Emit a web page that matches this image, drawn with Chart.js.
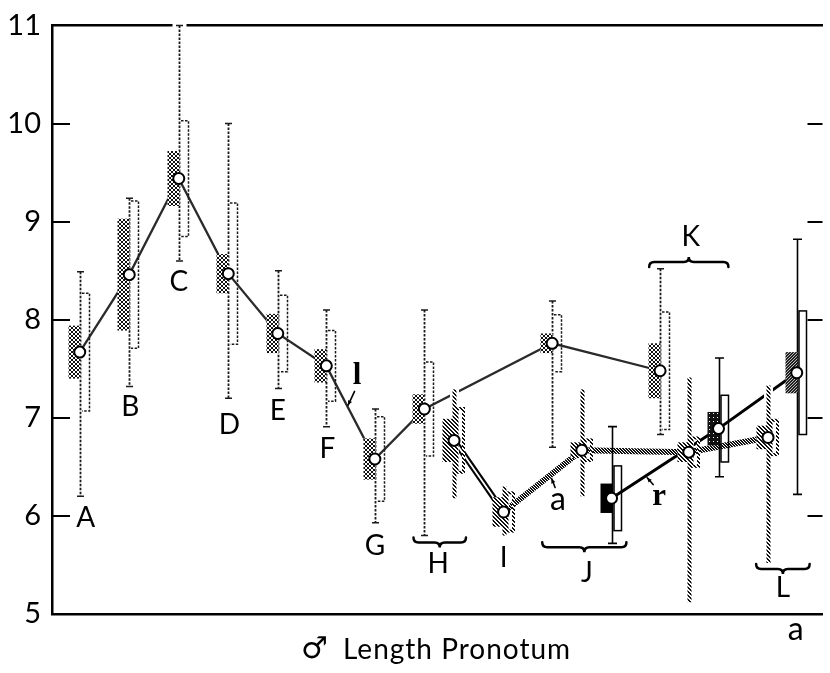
<!DOCTYPE html>
<html>
<head>
<meta charset="utf-8">
<script src="https://cdn.jsdelivr.net/npm/chart.js@4.4.1/dist/chart.umd.min.js"></script>
<style>
  html, body { margin: 0; padding: 0; background: #fff; overflow: hidden; }
  canvas { display: block; }
</style>
</head>
<body>
<canvas id="c" width="830" height="673"></canvas>
<script>
// Male pronotum length by population, in transect order.
// Each population: range (min-max), mean, ±1 SD (open box), ±2 SE (filled box).
const samples = ['A', 'B', 'C', 'D', 'E', 'F', 'G', 'H1', 'H2', 'I', 'J1', 'J2', 'J3', 'K1', 'M', 'K2', 'L', 'aR'];
const series  = ['l', 'l', 'l', 'l', 'l', 'l', 'l', 'l', 'a', 'a', 'l', 'a', 'r', 'l', 'a', 'r', 'a', 'r'];
const station = [1, 2, 3, 4, 5, 5.98, 6.96, 7.96, 8.56, 9.56, 10.54, 11.14, 11.74, 12.72, 13.3, 13.9, 14.9, 15.48];
const means   = [7.67, 8.46, 9.44, 8.47, 7.86, 7.53, 6.58, 7.09, 6.77, 6.04, 7.76, 6.67, 6.18, 7.48, 6.65, 6.89, 6.80, 7.46];
const mins    = [6.20, 7.32, 8.60, 7.20, 7.30, 6.91, 5.93, 5.80, 6.18, 5.80, 6.70, 6.20, 5.72, 6.83, 5.12, 6.40, 5.52, 6.22];
const maxs    = [8.49, 9.24, 11.0, 10.0, 8.50, 8.10, 7.09, 8.10, 7.29, 6.30, 8.19, 7.29, 6.91, 8.52, 7.41, 7.61, 7.33, 8.82];
const sd      = [0.60, 0.75, 0.59, 0.72, 0.39, 0.36, 0.43, 0.48, 0.34, 0.21, 0.29, 0.12, 0.33, 0.60, 0.16, 0.34, 0.19, 0.63];
const twoSE   = [0.27, 0.57, 0.28, 0.20, 0.20, 0.17, 0.21, 0.15, 0.22, 0.15, 0.10, 0.08, 0.15, 0.28, 0.10, 0.17, 0.12, 0.21];
const yTicks  = [5, 6, 7, 8, 9, 10, 11];
const xTitleSymbol = '\u2642';
const xTitleText = 'Length Pronotum';

// Population letters and series names, placed in data units
const groupLabels = [
  { text: 'A', x: 1.12, y: 5.98 }, { text: 'B', x: 2.02, y: 7.11 }, { text: 'C', x: 3.0, y: 8.39 },
  { text: 'D', x: 4.02, y: 6.93 }, { text: 'E', x: 5.0, y: 7.07 }, { text: 'F', x: 6.0, y: 6.68 },
  { text: 'G', x: 6.96, y: 5.69 }, { text: 'H', x: 8.24, y: 5.51 }, { text: 'I', x: 9.56, y: 5.57 },
  { text: 'J', x: 11.24, y: 5.42 }, { text: 'K', x: 13.34, y: 8.84 }, { text: 'L', x: 15.2, y: 5.27 }
];
const lowerLetters = [{ text: 'a', x: 15.46, y: 4.84 }];
const seriesLabels = [
  { text: 'l', x: 6.6, y: 7.43, serif: true, arrow: [6.55, 7.27, 6.42, 7.13] },
  { text: 'a', x: 10.66, y: 6.17, serif: false, arrow: [10.6, 6.29, 10.53, 6.38] },
  { text: 'r', x: 12.7, y: 6.19, serif: true, arrow: [12.58, 6.32, 12.46, 6.39] }
];
const braces = [
  { x0: 7.74, x1: 8.80, y: 5.73, dir: 1 },
  { x0: 10.34, x1: 12.04, y: 5.68, dir: 1 },
  { x0: 12.50, x1: 14.10, y: 8.59, dir: -1 },
  { x0: 14.66, x1: 15.74, y: 5.46, dir: 1 }
];

const SANS = 'Lato, "Open Sans", sans-serif';
const SERIF = '"Liberation Serif", "DejaVu Serif", serif';

const canvas = document.getElementById('c');
const ctx0 = canvas.getContext('2d');

function makePattern(size, bg, fg, cells) {
  const c = document.createElement('canvas');
  c.width = c.height = size;
  const g = c.getContext('2d');
  g.fillStyle = bg; g.fillRect(0, 0, size, size);
  g.fillStyle = fg;
  cells.forEach(([px, py]) => g.fillRect(px, py, 1, 1));
  return ctx0.createPattern(c, 'repeat');
}
const crossHatch = makePattern(4, '#fff', '#111', [[0,0],[1,1],[2,2],[3,3],[3,0],[2,1],[1,2],[0,3]]);
const diagHatch  = makePattern(4, '#fff', '#111', [[0,0],[1,1],[2,2],[3,3],[1,0],[2,1],[3,2],[0,3]]);
const bandHatch  = makePattern(3, '#fff', '#111', [[0,0],[1,1],[2,2],[1,0],[2,1],[0,2]]);
const stippleDark = makePattern(4, '#111', '#fff', [[1,1]]);
const stippleMid  = makePattern(3, '#222', '#bbb', [[0,0],[2,1],[1,2]]);
const solidFills = { J3: '#000', K2: stippleDark, aR: stippleMid };

const indicesOf = s => samples.map((_, i) => i).filter(i => series[i] === s);
const pointsOf = s => indicesOf(s).map(i => ({ x: station[i], y: means[i] }));

// Range bars and boxes, drawn between the connecting lines and the mean circles
const diceDiagrams = {
  id: 'diceDiagrams',
  beforeDatasetDraw(chart, args) {
    if (chart.data.datasets[args.index].label !== 'means') return;
    const { ctx, scales: { x, y } } = chart;
    ctx.save();
    samples.forEach((name, i) => {
      const s = series[i];
      const cx = Math.round(x.getPixelForValue(station[i])) + 0.5;
      const yMax = y.getPixelForValue(maxs[i]), yMin = y.getPixelForValue(mins[i]);
      const sdT = y.getPixelForValue(means[i] + sd[i]), sdB = y.getPixelForValue(means[i] - sd[i]);
      const seT = y.getPixelForValue(means[i] + twoSE[i]), seB = y.getPixelForValue(means[i] - twoSE[i]);

      // range line
      if (s === 'l') {
        ctx.fillStyle = '#fff';
        ctx.fillRect(cx - 7, yMax - 3, 14, 6);
        ctx.strokeStyle = '#1a1a1a'; ctx.lineWidth = 1.8;
        ctx.setLineDash([2.5, 1.5]);
        ctx.beginPath(); ctx.moveTo(cx, yMax); ctx.lineTo(cx, yMin); ctx.stroke();
        ctx.setLineDash([]);
        ctx.lineWidth = 1.5;
        ctx.beginPath();
        ctx.moveTo(cx - 3.5, yMax); ctx.lineTo(cx + 3.5, yMax);
        ctx.moveTo(cx - 3.5, yMin); ctx.lineTo(cx + 3.5, yMin);
        ctx.stroke();
      } else if (s === 'a') {
        ctx.strokeStyle = '#fff'; ctx.lineWidth = 9;
        ctx.beginPath(); ctx.moveTo(cx, yMax - 1); ctx.lineTo(cx, yMin + 1); ctx.stroke();
        ctx.strokeStyle = diagHatch; ctx.lineWidth = 4;
        ctx.beginPath(); ctx.moveTo(cx, yMax); ctx.lineTo(cx, yMin); ctx.stroke();
      } else {
        ctx.strokeStyle = '#000'; ctx.lineWidth = 1.6;
        ctx.beginPath();
        ctx.moveTo(cx, yMax); ctx.lineTo(cx, yMin);
        ctx.moveTo(cx - 4.5, yMax); ctx.lineTo(cx + 4.5, yMax);
        ctx.moveTo(cx - 4.5, yMin); ctx.lineTo(cx + 4.5, yMin);
        ctx.stroke();
      }

      // open box: ±1 SD
      const hx0 = cx + 1.5, hx1 = cx + 9;
      if (s === 'l') {
        ctx.strokeStyle = '#1a1a1a'; ctx.lineWidth = 1.5; ctx.setLineDash([2.5, 1.5]);
        ctx.beginPath(); ctx.moveTo(hx0, sdT); ctx.lineTo(hx1, sdT); ctx.lineTo(hx1, sdB); ctx.lineTo(hx0, sdB); ctx.stroke();
        ctx.setLineDash([]);
      } else if (s === 'a') {
        ctx.strokeStyle = diagHatch; ctx.lineWidth = 3;
        ctx.strokeRect(hx0 + 1, sdT + 1.5, hx1 - hx0 - 1, sdB - sdT - 3);
      } else {
        ctx.strokeStyle = '#000'; ctx.lineWidth = 1.5;
        ctx.strokeRect(hx0, sdT, hx1 - hx0, sdB - sdT);
      }

      // filled box: ±2 SE
      const fx0 = cx - 12;
      ctx.fillStyle = s === 'l' ? crossHatch : s === 'a' ? diagHatch : solidFills[name];
      ctx.fillRect(fx0, seT, cx - fx0, seB - seT);
    });
    ctx.restore();
  }
};

// Inward axis ticks on both sides of the plot frame
const frameTicks = {
  id: 'frameTicks',
  beforeDatasetsDraw(chart) {
    const { ctx, chartArea: a, scales: { y } } = chart;
    ctx.save();
    ctx.strokeStyle = '#000'; ctx.lineWidth = 2;
    ctx.beginPath();
    yTicks.forEach(v => {
      if (v === 5 || v === 11) return;
      const py = Math.round(y.getPixelForValue(v));
      ctx.moveTo(a.left, py); ctx.lineTo(a.left + 18, py);
      ctx.moveTo(a.right - 15, py); ctx.lineTo(a.right, py);
    });
    ctx.stroke();
    ctx.restore();
  }
};

function drawBrace(ctx, x0, x1, yy, dir) {
  const d = 5 * dir, xm = (x0 + x1) / 2;
  ctx.beginPath();
  ctx.moveTo(x0, yy - d);
  ctx.quadraticCurveTo(x0, yy, x0 + 5, yy);
  ctx.lineTo(xm - 5, yy);
  ctx.quadraticCurveTo(xm, yy, xm, yy + d);
  ctx.quadraticCurveTo(xm, yy, xm + 5, yy);
  ctx.lineTo(x1 - 5, yy);
  ctx.quadraticCurveTo(x1, yy, x1, yy - d);
  ctx.stroke();
}

// Letters, braces, labelled arrows and the axis caption
const annotations = {
  id: 'annotations',
  afterDatasetsDraw(chart) {
    const { ctx, chartArea: area, scales: { x, y } } = chart;
    ctx.save();
    ctx.fillStyle = '#000'; ctx.strokeStyle = '#000';
    ctx.textAlign = 'center'; ctx.textBaseline = 'middle';
    ctx.font = '28px ' + SANS;
    groupLabels.forEach(l => ctx.fillText(l.text, x.getPixelForValue(l.x), y.getPixelForValue(l.y)));
    ctx.font = '32px ' + SANS;
    lowerLetters.forEach(l => ctx.fillText(l.text, x.getPixelForValue(l.x), y.getPixelForValue(l.y)));

    ctx.lineWidth = 2.5; ctx.lineCap = 'round';
    braces.forEach(b => drawBrace(ctx, x.getPixelForValue(b.x0), x.getPixelForValue(b.x1), y.getPixelForValue(b.y), b.dir));

    seriesLabels.forEach(l => {
      ctx.font = (l.serif ? 'bold 31px ' + SERIF : '32px ' + SANS);
      ctx.fillText(l.text, x.getPixelForValue(l.x), y.getPixelForValue(l.y));
      const [ax0, ay0, ax1, ay1] = l.arrow;
      const p0 = [x.getPixelForValue(ax0), y.getPixelForValue(ay0)];
      const p1 = [x.getPixelForValue(ax1), y.getPixelForValue(ay1)];
      ctx.lineWidth = 1.6;
      ctx.beginPath(); ctx.moveTo(p0[0], p0[1]); ctx.lineTo(p1[0], p1[1]); ctx.stroke();
      const ang = Math.atan2(p1[1] - p0[1], p1[0] - p0[0]);
      ctx.beginPath();
      ctx.moveTo(p1[0], p1[1]);
      ctx.lineTo(p1[0] - 5 * Math.cos(ang - 0.45), p1[1] - 5 * Math.sin(ang - 0.45));
      ctx.lineTo(p1[0] - 5 * Math.cos(ang + 0.45), p1[1] - 5 * Math.sin(ang + 0.45));
      ctx.closePath(); ctx.fill();
    });

    // x-axis caption: male symbol followed by the measured trait
    const capY = area.bottom + 36;
    ctx.textAlign = 'left';
    ctx.font = 'bold 30px "DejaVu Sans", sans-serif';
    ctx.fillText(xTitleSymbol, 301, capY);
    ctx.font = '28px ' + SANS;
    if ('letterSpacing' in ctx) ctx.letterSpacing = '1px';
    ctx.fillText(xTitleText, 343, capY);
    ctx.restore();
  }
};

new Chart(canvas, {
  type: 'line',
  data: {
    datasets: [
      {
        label: 'l', data: pointsOf('l'), order: 3,
        borderColor: '#2b2b2b', borderWidth: 2.3, pointRadius: 0, tension: 0
      },
      {
        label: 'a', data: pointsOf('a'), order: 3,
        borderColor: bandHatch, borderWidth: 6, pointRadius: 0, tension: 0,
        segment: { borderColor: c => (c.p0DataIndex === 0 ? '#000' : undefined) }
      },
      {
        label: 'a-core', data: pointsOf('a').slice(0, 2), order: 2,
        borderColor: '#fff', borderWidth: 1.8, pointRadius: 0, tension: 0
      },
      {
        label: 'r', data: pointsOf('r'), order: 3,
        borderColor: '#000', borderWidth: 3, pointRadius: 0, tension: 0
      },
      {
        label: 'means', type: 'scatter', order: 1,
        data: samples.map((_, i) => ({ x: station[i], y: means[i] })),
        pointRadius: 5.5, pointBorderWidth: 2, pointBackgroundColor: '#fff', pointBorderColor: '#000',
        showLine: false
      }
    ]
  },
  options: {
    responsive: false,
    animation: false,
    devicePixelRatio: 1,
    layout: { padding: { top: 18, right: 0, bottom: 0, left: 0 } },
    plugins: { legend: { display: false }, tooltip: { enabled: false } },
    scales: {
      x: {
        type: 'linear', position: 'bottom', min: 0.44, max: 16.0,
        grid: { display: false, drawTicks: false },
        ticks: { display: false },
        border: { display: true, color: '#000', width: 2.5 },
        afterFit(s) { s.height = 59; }
      },
      top: {
        type: 'linear', position: 'top', min: 0.44, max: 16.0,
        grid: { display: false, drawTicks: false },
        ticks: { display: false },
        border: { display: true, color: '#000', width: 2.5 },
        afterFit(s) { s.height = 0; }
      },
      y: {
        type: 'linear', position: 'left', min: 5, max: 11,
        afterBuildTicks(s) { s.ticks = yTicks.map(v => ({ value: v })); },
        ticks: { color: '#000', padding: 11, font: { family: SANS, size: 29, lineHeight: 1 } },
        grid: { drawOnChartArea: false, drawTicks: false },
        border: { display: true, color: '#000', width: 2.5 },
        afterFit(s) { s.width = 52; }
      }
    }
  },
  plugins: [frameTicks, diceDiagrams, annotations]
});
</script>
</body>
</html>
